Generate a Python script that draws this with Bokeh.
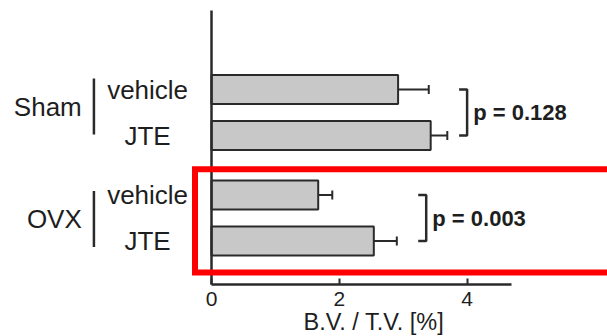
from bokeh.plotting import figure
from bokeh.models import (ColumnDataSource, Range1d, FixedTicker, Whisker, TeeHead,
                          LinearAxis)
from bokeh.core.properties import value
from bokeh.embed import file_html
from bokeh.resources import INLINE

# ---- data ----
groups = ["Sham", "OVX"]
treatments = ["vehicle", "JTE"]
bv_tv_mean = [2.92, 3.43, 1.67, 2.54]   # Sham-vehicle, Sham-JTE, OVX-vehicle, OVX-JTE
bv_tv_err = [0.48, 0.26, 0.22, 0.36]
p_values = ["p = 0.128", "p = 0.003"]
x_ticks = [0, 2, 4]
x_label = "B.V. / T.V. [%]"

# ---- layout (positions, not data) ----
FONT = "Liberation Sans"
TXT = "#1e1e1e"
LINE = "#2a2a2a"
row_base, row_step, group_step = 89.0, 46.0, 105.5
bar_h = 29
bracket_x = [4.0, 3.36]
group_label_shift = [-6, 1]
axis_y = 284          # where the value axis sits (screen-like units)
title_y = 321

ys, labels, grp_mid = [], [], []
for g, grp in enumerate(groups):
    pos = []
    for t, tr in enumerate(treatments):
        y = row_base + g * group_step + t * row_step
        ys.append(y)
        labels.append(tr)
        pos.append(y)
    grp_mid.append(sum(pos) / len(pos))
grp_lab_y = [m + s for m, s in zip(grp_mid, group_label_shift)]

upper = [m + e for m, e in zip(bv_tv_mean, bv_tv_err)]
src = ColumnDataSource(dict(y=ys, mean=bv_tv_mean, upper=upper, label=labels))

p = figure(width=607, height=336, output_backend="svg", toolbar_location=None,
           x_range=Range1d(-3.302, 6.197), y_range=Range1d(336, 0),
           min_border_left=0, min_border_right=0, min_border_top=0, min_border_bottom=0,
           x_axis_location=None, y_axis_location=None)
p.outline_line_color = None
p.xgrid.visible = False
p.ygrid.visible = False
p.background_fill_color = "white"
p.border_fill_color = "white"

# x axis
xa = LinearAxis(ticker=FixedTicker(ticks=x_ticks), bounds=(0, 4.7), fixed_location=axis_y)
xa.axis_line_width = 2.5
xa.axis_line_color = LINE
xa.major_tick_line_color = LINE
xa.major_tick_line_width = 2
xa.major_tick_in = 6
xa.major_tick_out = 0
xa.minor_tick_line_color = None
xa.major_label_text_font = FONT
xa.major_label_text_font_size = "21px"
xa.major_label_text_color = TXT
xa.major_label_standoff = 7
p.add_layout(xa, "below")

# axis title
p.text(x=[2.54], y=[title_y], text=[x_label], text_align="center",
       text_baseline="middle", text_font=value(FONT), text_font_size="23.5px",
       text_color=TXT)

# bars
p.hbar(y="y", left=0, right="mean", height=bar_h, source=src,
       fill_color="#c8c8c8", line_color=LINE, line_width=2)

# y axis line
p.segment(x0=0, y0=10, x1=0, y1=axis_y, line_color=LINE, line_width=2.5)

# error bars
w = Whisker(source=src, base="y", lower="mean", upper="upper", dimension="width",
            line_color=LINE, line_width=2,
            upper_head=TeeHead(size=9, line_color=LINE, line_width=2), lower_head=None)
p.add_layout(w)

# treatment labels
p.text(x=-1.0, y="y", text="label", source=src, text_align="center",
       text_baseline="middle", text_font=value(FONT), text_font_size="26px",
       text_color=TXT)

# group labels and bars
p.text(x=[-2.03] * len(groups), y=grp_lab_y, text=groups, text_align="right",
       text_baseline="middle", text_font=value(FONT), text_font_size="26px",
       text_color=TXT)
p.segment(x0=[-1.84] * len(groups), y0=[m - 28 for m in grp_lab_y],
          x1=[-1.84] * len(groups), y1=[m + 28 for m in grp_lab_y],
          line_color=LINE, line_width=2.5)

# significance brackets
arm = 0.125
for g in range(len(groups)):
    y0 = ys[2 * g]
    y1 = ys[2 * g + 1]
    bx = bracket_x[g]
    p.line(x=[bx - arm, bx, bx, bx - arm], y=[y0, y0, y1, y1],
           line_color=LINE, line_width=2.5)
p.text(x=[b + 0.095 for b in bracket_x], y=grp_mid, text=p_values,
       text_align="left", text_baseline="middle", text_font=value(FONT),
       text_font_size="22px", text_font_style="bold", text_color=TXT)

# red highlight box (open to the right, runs off the picture)
rx = [7.5, -0.258, -0.258, 7.5]
ry = [168.7, 168.7, 272, 272]
p.line(x=rx, y=ry, line_color="#ff0000", line_width=6, line_join="miter")

open("out.html", "w").write(file_html(p, INLINE))
